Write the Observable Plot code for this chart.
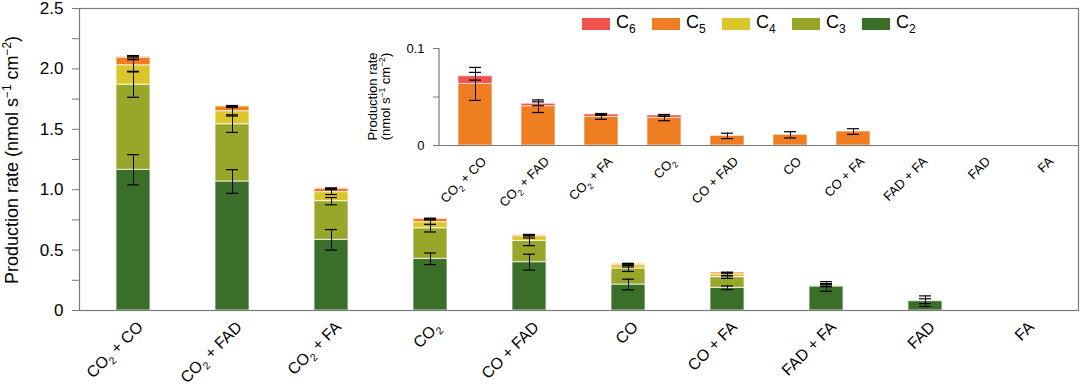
<!DOCTYPE html>
<html>
<head>
<meta charset="utf-8">
<script src="https://cdn.jsdelivr.net/npm/d3@7"></script>
<script src="https://cdn.jsdelivr.net/npm/@observablehq/plot@0.6"></script>
<style>
  html, body { margin: 0; padding: 0; background: #fff; }
  #wrap { position: relative; width: 1080px; height: 391px; overflow: hidden; font-family: "Liberation Sans", Arial, sans-serif; }
  #inset { position: absolute; left: 340px; top: 0px; }
  #legend { position: absolute; left: 582px; top: 12px; display: flex; }
  .item { width: 70px; display: flex; align-items: center; font-size: 18px; color: #000; }
  .sw { width: 28px; height: 12px; margin-right: 6px; margin-top: 2px; }
  .item sub { font-size: 12px; vertical-align: -5px; line-height: 0; }
</style>
</head>
<body>
<div id="wrap"></div>
<script>
// ---------- data ----------
const categories = ["CO2 + CO", "CO2 + FAD", "CO2 + FA", "CO2", "CO + FAD", "CO", "CO + FA", "FAD + FA", "FAD", "FA"];
const series = ["C2", "C3", "C4", "C5", "C6"];
const seriesColors = ["#3b6e28", "#98a62a", "#dac62b", "#ef7e22", "#f0544b"];

const C2 = [1.165, 1.068, 0.585, 0.428, 0.400, 0.215, 0.188, 0.199, 0.077, 0];
const C3 = [0.705, 0.474, 0.320, 0.253, 0.177, 0.133, 0.088, 0.008, 0, 0];
const C4 = [0.160, 0.108, 0.075, 0.050, 0.038, 0.027, 0.024, 0.006, 0, 0];
const C5 = [0.0635, 0.0405, 0.0295, 0.0285, 0.0099, 0.0110, 0.0144, 0, 0, 0];
const C6 = [0.0079, 0.0025, 0.0025, 0.0025, 0, 0, 0, 0, 0, 0];

const C2err = [0.125, 0.098, 0.085, 0.048, 0.066, 0.044, 0.015, 0.040, 0.044, 0];
const C3err = [0.105, 0.068, 0.030, 0.031, 0.040, 0.025, 0.010, 0.010, 0, 0];
const C4err = [0.050, 0.030, 0.020, 0.018, 0.015, 0.015, 0.010, 0.010, 0.020, 0];
const C5err = [0.017, 0.0065, 0.0025, 0.0030, 0.0028, 0.0032, 0.0029, 0, 0, 0];
const C6err = [0.0040, 0.0020, 0.0010, 0.0010, 0, 0, 0, 0, 0, 0];

const mainTicks = [0, 0.5, 1.0, 1.5, 2.0, 2.5];
const mainMinorTicks = [0.25, 0.75, 1.25, 1.75, 2.25];
const insetTicks = [0, 0.1];
const insetMinorTicks = [0.05];

// ---------- tables ----------
const values = [C2, C3, C4, C5, C6];
const errs = [C2err, C3err, C4err, C5err, C6err];

const rows = [];
const errRows = [];
categories.forEach((cat, i) => {
  let cum = 0;
  series.forEach((s, j) => {
    const v = values[j][i];
    rows.push({cat, series: s, value: v});
    cum += v;
    const e = errs[j][i];
    if (e > 0) errRows.push({cat, series: s, lo: cum - e, hi: cum + e});
  });
});

const insetSeries = ["C5", "C6"];
const insetRows = rows.filter(d => insetSeries.includes(d.series));
const insetErrRows = [];
categories.forEach((cat, i) => {
  let cum = 0;
  [3, 4].forEach(j => {
    cum += values[j][i];
    const e = errs[j][i];
    if (e > 0) insetErrRows.push({cat, series: series[j], lo: cum - e, hi: cum + e});
  });
});

const FONT = "Liberation Sans, Arial, Helvetica, sans-serif";

// ---------- main chart ----------
const main = Plot.plot({
  width: 1080, height: 391,
  marginLeft: 79, marginRight: 2, marginTop: 8, marginBottom: 81,
  style: {fontFamily: FONT, background: "transparent", overflow: "visible"},
  x: {domain: categories, paddingInner: 0.66, paddingOuter: 0.33, label: null, axis: null},
  y: {domain: [0, 2.5], label: null},
  color: {domain: series, range: seriesColors},
  marks: [
    Plot.barY(rows, {x: "cat", y: "value", fill: "series", stroke: "#ffffff", strokeOpacity: 0.75, strokeWidth: 1}),
    Plot.ruleX(errRows, {x: "cat", y1: "lo", y2: "hi", stroke: "#000", strokeWidth: 1}),
    Plot.tickY(errRows, {x: "cat", y: "lo", stroke: "#000", strokeWidth: 1.2, insetLeft: 11, insetRight: 11}),
    Plot.tickY(errRows, {x: "cat", y: "hi", stroke: "#000", strokeWidth: 1.2, insetLeft: 11, insetRight: 11}),
    Plot.frame({stroke: "#7a7a7a", strokeWidth: 1.2}),
    Plot.axisY({ticks: mainTicks, tickSize: 7, tickPadding: 9, tickFormat: d => d === 0 ? "0" : d.toFixed(1), fontSize: 17, stroke: "#7a7a7a", fill: "#000", label: null}),
    Plot.axisY({ticks: mainMinorTicks, tickSize: 7, tickFormat: () => "", stroke: "#7a7a7a", label: null})
  ]
});

// ---------- inset chart ----------
const inset = Plot.plot({
  width: 740, height: 235,
  marginLeft: 99, marginRight: 2, marginTop: 48, marginBottom: 90,
  style: {fontFamily: FONT, background: "transparent", overflow: "visible"},
  x: {domain: categories, paddingInner: 0.468, paddingOuter: 0.234, label: null, axis: null},
  y: {domain: [0, 0.1], label: null},
  color: {domain: series, range: seriesColors},
  marks: [
    Plot.barY(insetRows, {x: "cat", y: "value", fill: "series", stroke: "#ffffff", strokeOpacity: 0.6, strokeWidth: 1}),
    Plot.ruleX(insetErrRows, {x: "cat", y1: "lo", y2: "hi", stroke: "#000", strokeWidth: 1}),
    Plot.tickY(insetErrRows, {x: "cat", y: "lo", stroke: "#000", strokeWidth: 1.2, insetLeft: 11, insetRight: 11}),
    Plot.tickY(insetErrRows, {x: "cat", y: "hi", stroke: "#000", strokeWidth: 1.2, insetLeft: 11, insetRight: 11}),
    Plot.ruleY([0], {stroke: "#7a7a7a", strokeWidth: 1.2}),
    Plot.axisY({ticks: insetTicks, tickSize: 6, tickPadding: 9, tickFormat: d => d === 0 ? "0" : String(d), fontSize: 13, stroke: "#7a7a7a", fill: "#000", label: null}),
    Plot.axisY({ticks: insetMinorTicks, tickSize: 6, tickFormat: () => "", stroke: "#7a7a7a", label: null})
  ]
});

// ---------- helpers ----------
const SVGNS = "http://www.w3.org/2000/svg";
function richText(el, parts, fs) {
  el.textContent = "";
  let shift = 0;
  for (const [s, kind] of parts) {
    const t = document.createElementNS(SVGNS, "tspan");
    const target = kind === "sup" ? -0.4 * fs : kind === "sub" ? 0.28 * fs : 0;
    t.setAttribute("dy", target - shift);
    shift = target;
    if (kind) t.setAttribute("font-size", 0.66 * fs);
    t.textContent = s;
    el.appendChild(t);
  }
}
function chemParts(s) {
  const i = s.indexOf("CO2");
  if (i < 0) return [[s, null]];
  return [[s.slice(0, i + 2), null], ["2", "sub"], [s.slice(i + 3), null]].filter(p => p[0] !== "");
}
// rotated category labels placed through the chart's own x / y scales
function categoryLabels(svg, fs, dx, dy) {
  const xs = svg.scale("x"), ys = svg.scale("y");
  const g = document.createElementNS(SVGNS, "g");
  g.setAttribute("font-size", fs);
  g.setAttribute("font-family", FONT);
  g.setAttribute("fill", "#000");
  const y0 = ys.apply(0);
  categories.forEach(cat => {
    const cx = xs.apply(cat) + xs.bandwidth / 2;
    const holder = document.createElementNS(SVGNS, "g");
    holder.setAttribute("transform", `translate(${cx + dx},${y0 + dy}) rotate(-45)`);
    const t = document.createElementNS(SVGNS, "text");
    t.setAttribute("text-anchor", "end");
    t.setAttribute("y", "0.35em");
    richText(t, chemParts(cat), fs);
    holder.appendChild(t);
    g.appendChild(holder);
  });
  svg.appendChild(g);
}
categoryLabels(main, 16, 7, 14);
categoryLabels(inset, 13, 9, 14);

// main y label
{
  const t = document.createElementNS(SVGNS, "text");
  t.setAttribute("transform", "translate(18,160) rotate(-90)");
  t.setAttribute("text-anchor", "middle");
  t.setAttribute("font-size", 18);
  t.setAttribute("font-family", FONT);
  t.setAttribute("fill", "#000");
  richText(t, [["Production rate (nmol s", null], ["\u22121", "sup"], [" cm", null], ["\u22122", "sup"], [")", null]], 18);
  main.appendChild(t);
}

// inset y axis line + label
{
  const ys = inset.scale("y");
  const line = document.createElementNS(SVGNS, "line");
  line.setAttribute("x1", 99); line.setAttribute("x2", 99);
  line.setAttribute("y1", ys.apply(0)); line.setAttribute("y2", ys.apply(0.1));
  line.setAttribute("stroke", "#7a7a7a"); line.setAttribute("stroke-width", 1.2);
  inset.appendChild(line);
  const mid = (ys.apply(0) + ys.apply(0.1)) / 2;
  const l1 = document.createElementNS(SVGNS, "text");
  l1.setAttribute("transform", `translate(37,${mid}) rotate(-90)`);
  l1.setAttribute("text-anchor", "middle");
  l1.setAttribute("font-size", 13);
  l1.setAttribute("font-family", FONT);
  l1.textContent = "Production rate";
  inset.appendChild(l1);
  const l2 = document.createElementNS(SVGNS, "text");
  l2.setAttribute("transform", `translate(50,${mid}) rotate(-90)`);
  l2.setAttribute("text-anchor", "middle");
  l2.setAttribute("font-size", 13);
  l2.setAttribute("font-family", FONT);
  richText(l2, [["(nmol s", null], ["\u22121", "sup"], [" cm", null], ["\u22122", "sup"], [")", null]], 13);
  inset.appendChild(l2);
}

const wrap = document.getElementById("wrap");
wrap.appendChild(main);
inset.id = "inset";
wrap.appendChild(inset);

// legend (C6 ... C2)
const legend = document.createElement("div");
legend.id = "legend";
series.slice().reverse().forEach(s => {
  const j = series.indexOf(s);
  const item = document.createElement("div");
  item.className = "item";
  const sw = document.createElement("div");
  sw.className = "sw";
  sw.style.background = seriesColors[j];
  item.appendChild(sw);
  const lab = document.createElement("span");
  lab.innerHTML = s[0] + "<sub>" + s.slice(1) + "</sub>";
  item.appendChild(lab);
  legend.appendChild(item);
});
wrap.appendChild(legend);
</script>
</body>
</html>
